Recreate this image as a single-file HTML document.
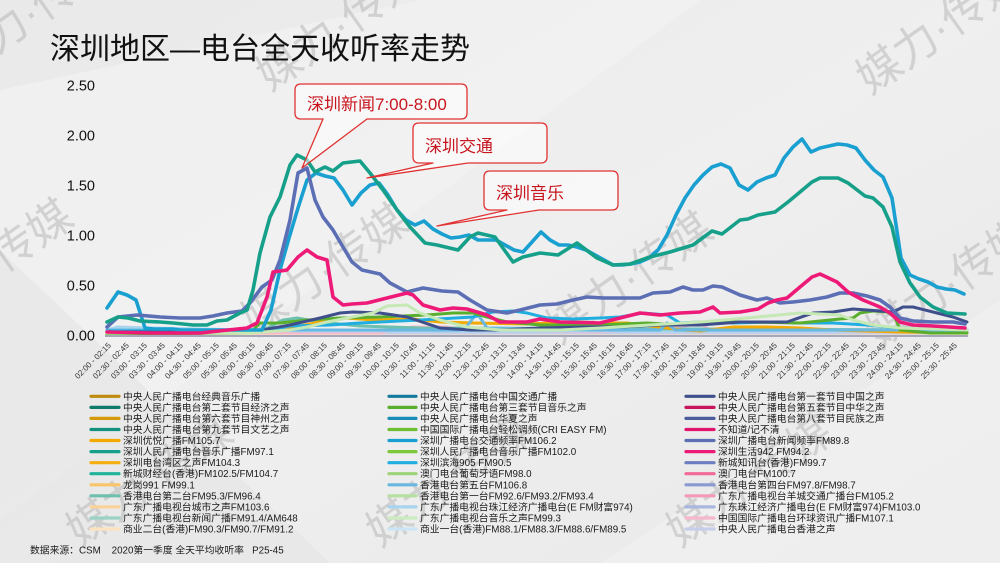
<!DOCTYPE html>
<html><head><meta charset="utf-8"><style>
html,body{margin:0;padding:0;width:1000px;height:563px;overflow:hidden;background:#ececec}
svg{display:block}
</style></head><body>
<svg width="1000" height="563" viewBox="0 0 1000 563" xmlns="http://www.w3.org/2000/svg" font-family="'Liberation Sans','Noto Sans CJK SC',sans-serif" overflow="hidden">
<defs>
<linearGradient id="bg" x1="0" y1="0" x2="1" y2="1">
<stop offset="0" stop-color="#e9e9e9"/><stop offset="0.5" stop-color="#efefef"/><stop offset="1" stop-color="#e8e8e8"/>
</linearGradient>
</defs>
<rect width="1000" height="563" fill="url(#bg)"/>
<polygon points="0,90 420,0 700,0 0,520" fill="#f4f4f4" opacity="0.6"/>
<polygon points="0,250 330,563 0,563" fill="#e4e4e4" opacity="0.6"/>
<polygon points="600,563 1000,300 1000,563" fill="#f3f3f3" opacity="0.5"/>
<!-- watermarks -->
<g font-size="44" fill="#b8b8b8" opacity="0.55">
<text transform="translate(-40,80) rotate(-35)">媒力·传媒</text>
<text transform="translate(270,92) rotate(-35)">媒力·传媒</text>
<text transform="translate(870,95) rotate(-35)">媒力·传媒</text>
<text transform="translate(-80,332) rotate(-35)">媒力·传媒</text>
<text transform="translate(255,337) rotate(-35)">媒力·传媒</text>
<text transform="translate(560,345) rotate(-35)">媒力·传媒</text>
<text transform="translate(880,350) rotate(-35)">媒力·传媒</text>
<text transform="translate(80,548) rotate(-35)">媒力·传媒</text>
<text transform="translate(380,548) rotate(-35)">媒力·传媒</text>
<text transform="translate(680,548) rotate(-35)">媒力·传媒</text>
</g>
<!-- title -->
<text x="50" y="59" font-size="30" fill="#111">深圳地区—电台全天收听率走势</text>
<!-- y axis labels -->
<g font-size="14.5" fill="#111" text-anchor="end">
<text x="95" y="90.5">2.50</text>
<text x="95" y="140.5">2.00</text>
<text x="95" y="190.5">1.50</text>
<text x="95" y="240.5">1.00</text>
<text x="95" y="290.5">0.50</text>
<text x="95" y="340.5">0.00</text>
</g>
<!-- low series -->
<g fill="none" stroke-width="3" stroke-linejoin="round" stroke-linecap="round">
<polyline stroke="#fbe3c0" points="107,334 300,334 500,334 700,334 967,334"/>
<polyline stroke="#c6ceea" points="107,333 300,333 600,333 967,333"/>
<polyline stroke="#f7b8cc" points="107,333 380,333 393,330 413,327 447,327 467,330 600,332 680,327 700,323 710,330 967,332"/>
<polyline stroke="#a8d4ee" points="107,330 118,327 150,328 200,329 250,330 300,331 967,331"/>
<polyline stroke="#6dbfae" points="107,332 260,332 283,320 297,318 320,322 360,326 420,328 967,330"/>
<polyline stroke="#f2a900" points="107,333 250,333 280,330 320,322 347,318 373,320 413,319 440,322 473,323 527,324 573,322 600,323 627,323 683,330 700,331 733,327 767,327 800,328 833,330 900,332 967,333"/>
<polyline stroke="#6ab8e0" points="107,330 460,330 467,326 477,313 487,328 600,330 660,330 667,323 675,330 967,330"/>
<polyline stroke="#20aee0" points="107,331 260,331 290,326 330,325 360,323 380,322 420,320 473,317 493,312 513,311 527,313 547,318 573,319 600,318 620,317 643,313 667,315 680,323 700,322 733,323 773,322 800,323 833,323 867,325 900,328 967,330"/>
<polyline stroke="#5aae2e" points="107,334 250,333 260,323 280,323 307,320 340,318 380,317 427,315 453,313 473,313 487,317 507,322 540,325 600,325 647,323 680,325 707,322 747,322 800,323 840,319 853,318 860,313 873,311 887,312 895,317 900,330 930,333 967,333"/>
<polyline stroke="#3f4f8c" points="107,332 200,332 262,330 290,325 320,318 340,313 353,312 380,313 407,317 440,328 470,330 500,330 540,328 580,327 620,327 660,325 700,325 740,322 787,322 813,313 833,312 853,309 867,310 893,312 903,307 913,307 933,312 953,317 967,322"/>
<polyline stroke="#c5e8b5" points="107,333 250,333 290,330 307,327 327,322 347,318 373,313 387,306 407,305 420,313 440,320 467,327 500,330 560,330 600,328 650,325 700,322 747,318 800,313 840,315 853,320 873,325 900,328 967,330"/>
</g>
<!-- main series -->
<g fill="none" stroke-width="3.6" stroke-linejoin="round" stroke-linecap="round">
<polyline stroke="#1aa0d0" points="107,308 118,292 127,295 136,300 145,328 154,329 163,329 172,329 181,330 190,330 199,330 208,330 217,330 226,330 235,330 244,330 253,330 262,330 271,310 280,270 289,238 298,208 307,180 316,173 325,176 334,178 343,190 352,205 361,193 370,185 379,183 388,195 397,210 406,220 415,225 424,221 433,229 442,234 451,238 460,237 469,235 478,240 487,240 496,240 505,245 514,250 523,252 532,242 541,232 550,240 559,245 568,245 577,247 586,250 595,255 604,260 613,265 622,265 631,264 640,262 649,258 658,250 667,235 676,215 685,198 694,185 703,175 712,167 721,164 730,168 739,185 748,190 757,182 766,178 775,175 784,158 793,147 802,139 811,152 820,148 829,146 838,144 847,145 856,148 865,160 874,170 883,177 892,198 901,258 910,275 919,279 928,282 937,287 946,289 955,290 964,294"/>
<polyline stroke="#5c6fb5" points="107,327 118,317 137,315 160,317 180,318 200,318 213,316 227,313 242,311 250,303 262,287 272,280 280,260 290,220 298,173 307,168 315,200 323,217 333,230 343,247 352,262 362,270 380,274 390,283 407,292 423,288 442,291 458,292 470,300 487,310 507,313 520,310 540,305 557,304 573,300 587,297 603,298 620,298 640,298 653,293 670,292 683,287 693,290 703,290 713,286 722,287 740,295 757,300 767,298 780,303 793,302 810,300 827,297 840,293 853,293 867,296 880,300 890,307 900,318 913,321 933,322 953,322 965,324"/>
<polyline stroke="#16a08a" points="107,322 118,317 128,318 140,321 160,322 173,323 193,325 207,325 217,321 227,320 240,313 247,310 253,290 260,253 270,217 280,197 290,165 297,155 307,160 315,172 325,167 333,171 343,163 360,161 370,173 383,190 397,210 410,227 425,243 437,245 458,250 470,237 478,233 495,237 513,262 523,257 540,253 558,255 577,243 597,258 613,265 630,264 650,257 670,252 693,245 712,231 722,234 740,220 748,219 758,215 775,212 788,202 800,192 812,182 820,178 838,178 848,183 865,196 873,198 883,207 892,227 900,262 910,283 920,297 933,307 947,313 965,314"/>
<polyline stroke="#ee1a78" points="107,332 150,333 200,333 247,328 257,323 267,297 273,272 287,270 298,257 307,250 317,257 327,260 333,297 343,305 352,304 367,303 387,298 407,293 413,295 423,305 440,310 453,308 467,309 487,315 500,322 527,322 540,319 560,322 600,323 620,318 640,313 660,315 680,313 700,312 713,307 720,313 740,312 758,309 768,303 777,300 787,298 800,287 812,277 820,274 837,282 848,292 863,300 880,307 890,313 900,322 913,325 933,326 965,328"/>
</g>
<!-- axis -->
<line x1="105" y1="336" x2="968" y2="336" stroke="#a4a8b8" stroke-width="2"/>
<!-- x labels -->
<g font-size="8" fill="#333" text-anchor="end">
<text transform="translate(111.5,346) rotate(-45)">02:00 - 02:15</text>
<text transform="translate(129.5,346) rotate(-45)">02:30 - 02:45</text>
<text transform="translate(147.5,346) rotate(-45)">03:00 - 03:15</text>
<text transform="translate(165.5,346) rotate(-45)">03:30 - 03:45</text>
<text transform="translate(183.5,346) rotate(-45)">04:00 - 04:15</text>
<text transform="translate(201.5,346) rotate(-45)">04:30 - 04:45</text>
<text transform="translate(219.5,346) rotate(-45)">05:00 - 05:15</text>
<text transform="translate(237.5,346) rotate(-45)">05:30 - 05:45</text>
<text transform="translate(255.5,346) rotate(-45)">06:00 - 06:15</text>
<text transform="translate(273.5,346) rotate(-45)">06:30 - 06:45</text>
<text transform="translate(291.5,346) rotate(-45)">07:00 - 07:15</text>
<text transform="translate(309.5,346) rotate(-45)">07:30 - 07:45</text>
<text transform="translate(327.5,346) rotate(-45)">08:00 - 08:15</text>
<text transform="translate(345.5,346) rotate(-45)">08:30 - 08:45</text>
<text transform="translate(363.5,346) rotate(-45)">09:00 - 09:15</text>
<text transform="translate(381.5,346) rotate(-45)">09:30 - 09:45</text>
<text transform="translate(399.5,346) rotate(-45)">10:00 - 10:15</text>
<text transform="translate(417.5,346) rotate(-45)">10:30 - 10:45</text>
<text transform="translate(435.5,346) rotate(-45)">11:00 - 11:15</text>
<text transform="translate(453.5,346) rotate(-45)">11:30 - 11:45</text>
<text transform="translate(471.5,346) rotate(-45)">12:00 - 12:15</text>
<text transform="translate(489.5,346) rotate(-45)">12:30 - 12:45</text>
<text transform="translate(507.5,346) rotate(-45)">13:00 - 13:15</text>
<text transform="translate(525.5,346) rotate(-45)">13:30 - 13:45</text>
<text transform="translate(543.5,346) rotate(-45)">14:00 - 14:15</text>
<text transform="translate(561.5,346) rotate(-45)">14:30 - 14:45</text>
<text transform="translate(579.5,346) rotate(-45)">15:00 - 15:15</text>
<text transform="translate(597.5,346) rotate(-45)">15:30 - 15:45</text>
<text transform="translate(615.5,346) rotate(-45)">16:00 - 16:15</text>
<text transform="translate(633.5,346) rotate(-45)">16:30 - 16:45</text>
<text transform="translate(651.5,346) rotate(-45)">17:00 - 17:15</text>
<text transform="translate(669.5,346) rotate(-45)">17:30 - 17:45</text>
<text transform="translate(687.5,346) rotate(-45)">18:00 - 18:15</text>
<text transform="translate(705.5,346) rotate(-45)">18:30 - 18:45</text>
<text transform="translate(723.5,346) rotate(-45)">19:00 - 19:15</text>
<text transform="translate(741.5,346) rotate(-45)">19:30 - 19:45</text>
<text transform="translate(759.5,346) rotate(-45)">20:00 - 20:15</text>
<text transform="translate(777.5,346) rotate(-45)">20:30 - 20:45</text>
<text transform="translate(795.5,346) rotate(-45)">21:00 - 21:15</text>
<text transform="translate(813.5,346) rotate(-45)">21:30 - 21:45</text>
<text transform="translate(831.5,346) rotate(-45)">22:00 - 22:15</text>
<text transform="translate(849.5,346) rotate(-45)">22:30 - 22:45</text>
<text transform="translate(867.5,346) rotate(-45)">23:00 - 23:15</text>
<text transform="translate(885.5,346) rotate(-45)">23:30 - 23:45</text>
<text transform="translate(903.5,346) rotate(-45)">24:00 - 24:15</text>
<text transform="translate(921.5,346) rotate(-45)">24:30 - 24:45</text>
<text transform="translate(939.5,346) rotate(-45)">25:00 - 25:15</text>
<text transform="translate(957.5,346) rotate(-45)">25:30 - 25:45</text>
</g>
<!-- callouts -->
<g fill="#ffffff" fill-opacity="0.55" stroke="#e03232" stroke-width="1.3" stroke-linejoin="round">
<path d="M301,84 H461 Q467,84 467,90 V113 Q467,119 461,119 H367 L302,168 L323,119 H301 Q295,119 295,113 V90 Q295,84 301,84 Z"/>
<path d="M419,123 H541 Q547,123 547,129 V157 Q547,163 541,163 H468 L367,178 L433,163 H419 Q413,163 413,157 V129 Q413,123 419,123 Z"/>
<path d="M490,171 H612 Q618,171 618,177 V204 Q618,210 612,210 H539 L437,226 L507,210 H490 Q484,210 484,204 V177 Q484,171 490,171 Z"/>
</g>
<g font-size="17" fill="#c8161e">
<text x="307" y="110">深圳新闻7:00-8:00</text>
<text x="425" y="152">深圳交通</text>
<text x="496" y="199">深圳音乐</text>
</g>
<!-- legend -->
<g stroke-width="3.2" stroke-linecap="round">
<line x1="91" y1="396.3" x2="119" y2="396.3" stroke="#bf8b0e"/>
<line x1="91" y1="407.4" x2="119" y2="407.4" stroke="#0e7a6a"/>
<line x1="91" y1="418.4" x2="119" y2="418.4" stroke="#d49a0a"/>
<line x1="91" y1="429.5" x2="119" y2="429.5" stroke="#13917e"/>
<line x1="91" y1="440.5" x2="119" y2="440.5" stroke="#f2a900"/>
<line x1="91" y1="451.6" x2="119" y2="451.6" stroke="#16a08a"/>
<line x1="91" y1="462.7" x2="119" y2="462.7" stroke="#f5ae10"/>
<line x1="91" y1="473.7" x2="119" y2="473.7" stroke="#20b39a"/>
<line x1="91" y1="484.8" x2="119" y2="484.8" stroke="#f7c46a"/>
<line x1="91" y1="495.8" x2="119" y2="495.8" stroke="#6dbfae"/>
<line x1="91" y1="506.9" x2="119" y2="506.9" stroke="#f9d39a"/>
<line x1="91" y1="518" x2="119" y2="518" stroke="#9ad3c5"/>
<line x1="91" y1="529" x2="119" y2="529" stroke="#fbe3c0"/>
<line x1="389" y1="396.3" x2="416" y2="396.3" stroke="#137a9e"/>
<line x1="389" y1="407.4" x2="416" y2="407.4" stroke="#5aae2e"/>
<line x1="389" y1="418.4" x2="416" y2="418.4" stroke="#1a8cb8"/>
<line x1="389" y1="429.5" x2="416" y2="429.5" stroke="#6dbe30"/>
<line x1="389" y1="440.5" x2="416" y2="440.5" stroke="#1aa0d0"/>
<line x1="389" y1="451.6" x2="416" y2="451.6" stroke="#7dc73a"/>
<line x1="389" y1="462.7" x2="416" y2="462.7" stroke="#20aee0"/>
<line x1="389" y1="473.7" x2="416" y2="473.7" stroke="#9dd47a"/>
<line x1="389" y1="484.8" x2="416" y2="484.8" stroke="#6ab8e0"/>
<line x1="389" y1="495.8" x2="416" y2="495.8" stroke="#b5e0a0"/>
<line x1="389" y1="506.9" x2="416" y2="506.9" stroke="#a8d4ee"/>
<line x1="389" y1="518" x2="416" y2="518" stroke="#ccebc0"/>
<line x1="389" y1="529" x2="416" y2="529" stroke="#cbe5f5"/>
<line x1="686" y1="396.3" x2="714" y2="396.3" stroke="#3f4f8c"/>
<line x1="686" y1="407.4" x2="714" y2="407.4" stroke="#c8145a"/>
<line x1="686" y1="418.4" x2="714" y2="418.4" stroke="#4a5c9c"/>
<line x1="686" y1="429.5" x2="714" y2="429.5" stroke="#e0146e"/>
<line x1="686" y1="440.5" x2="714" y2="440.5" stroke="#5c6fb5"/>
<line x1="686" y1="451.6" x2="714" y2="451.6" stroke="#ee1a78"/>
<line x1="686" y1="462.7" x2="714" y2="462.7" stroke="#6b7fc0"/>
<line x1="686" y1="473.7" x2="714" y2="473.7" stroke="#f06a9a"/>
<line x1="686" y1="484.8" x2="714" y2="484.8" stroke="#8a9ad0"/>
<line x1="686" y1="495.8" x2="714" y2="495.8" stroke="#f49ab8"/>
<line x1="686" y1="506.9" x2="714" y2="506.9" stroke="#aab6de"/>
<line x1="686" y1="518" x2="714" y2="518" stroke="#f7b8cc"/>
<line x1="686" y1="529" x2="714" y2="529" stroke="#c6ceea"/>
</g>
<g font-size="9.8" fill="#1a1a1a">
<text x="123" y="399.8">中央人民广播电台经典音乐广播</text>
<text x="123" y="410.9">中央人民广播电台第二套节目经济之声</text>
<text x="123" y="421.9">中央人民广播电台第六套节目神州之声</text>
<text x="123" y="433">中央人民广播电台第九套节目文艺之声</text>
<text x="123" y="444">深圳优悦广播FM105.7</text>
<text x="123" y="455.1">深圳人民广播电台音乐广播FM97.1</text>
<text x="123" y="466.2">深圳电台湾区之声FM104.3</text>
<text x="123" y="477.2">新城财经台(香港)FM102.5/FM104.7</text>
<text x="123" y="488.3">龙岗991 FM99.1</text>
<text x="123" y="499.3">香港电台第二台FM95.3/FM96.4</text>
<text x="123" y="510.4">广东广播电视台城市之声FM103.6</text>
<text x="123" y="521.5">广东广播电视台新闻广播FM91.4/AM648</text>
<text x="123" y="532.5">商业二台(香港)FM90.3/FM90.7/FM91.2</text>
<text x="420" y="399.8">中央人民广播电台中国交通广播</text>
<text x="420" y="410.9">中央人民广播电台第三套节目音乐之声</text>
<text x="420" y="421.9">中央人民广播电台华夏之声</text>
<text x="420" y="433">中国国际广播电台轻松调频(CRI EASY FM)</text>
<text x="420" y="444">深圳广播电台交通频率FM106.2</text>
<text x="420" y="455.1">深圳人民广播电台音乐广播FM102.0</text>
<text x="420" y="466.2">深圳滨海905 FM90.5</text>
<text x="420" y="477.2">澳门电台葡萄牙语FM98.0</text>
<text x="420" y="488.3">香港电台第五台FM106.8</text>
<text x="420" y="499.3">香港电台第一台FM92.6/FM93.2/FM93.4</text>
<text x="420" y="510.4">广东广播电视台珠江经济广播电台(E FM财富974)</text>
<text x="420" y="521.5">广东广播电视台音乐之声FM99.3</text>
<text x="420" y="532.5">商业一台(香港)FM88.1/FM88.3/FM88.6/FM89.5</text>
<text x="718" y="399.8">中央人民广播电台第一套节目中国之声</text>
<text x="718" y="410.9">中央人民广播电台第五套节目中华之声</text>
<text x="718" y="421.9">中央人民广播电台第八套节目民族之声</text>
<text x="718" y="433">不知道/记不清</text>
<text x="718" y="444">深圳广播电台新闻频率FM89.8</text>
<text x="718" y="455.1">深圳生活942 FM94.2</text>
<text x="718" y="466.2">新城知讯台(香港)FM99.7</text>
<text x="718" y="477.2">澳门电台FM100.7</text>
<text x="718" y="488.3">香港电台第四台FM97.8/FM98.7</text>
<text x="718" y="499.3">广东广播电视台羊城交通广播台FM105.2</text>
<text x="718" y="510.4">广东珠江经济广播电台(E FM财富974)FM103.0</text>
<text x="718" y="521.5">中国国际广播电台环球资讯广播FM107.1</text>
<text x="718" y="532.5">中央人民广播电台香港之声</text>
</g>
<text x="30" y="553.5" font-size="9.8" fill="#1a1a1a" xml:space="preserve">数据来源：CSM    2020第一季度 全天平均收听率   P25-45</text>
</svg>
</body></html>
